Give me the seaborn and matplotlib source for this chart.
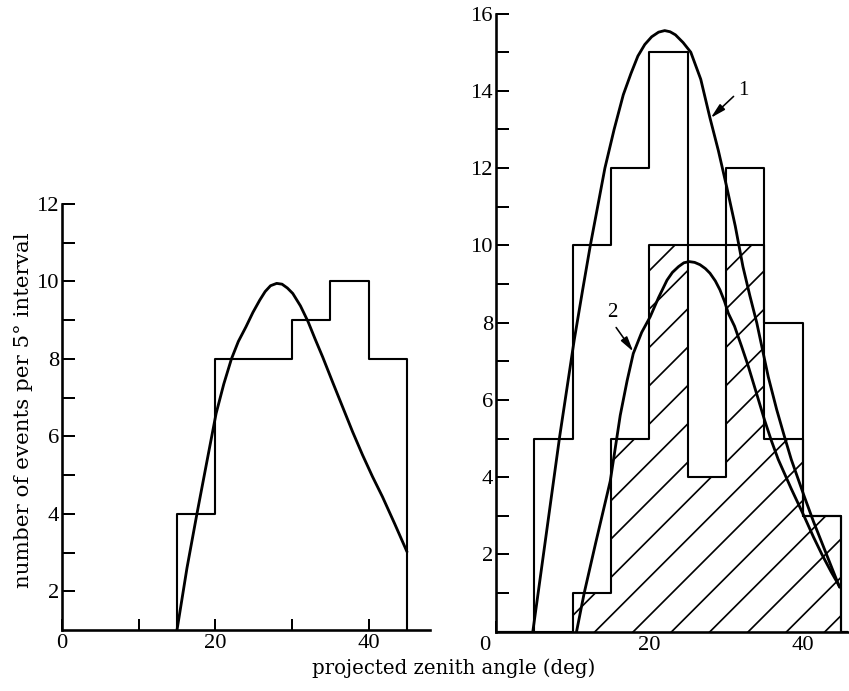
import numpy as np
import pandas as pd
import matplotlib
matplotlib.use("Agg")
import matplotlib.pyplot as plt
import seaborn as sns

# ---------------- data ----------------
bin_starts = [0, 5, 10, 15, 20, 25, 30, 35, 40, 45]
bin_width = 5
left_counts = [0, 0, 0, 4, 8, 8, 9, 10, 8, 0]
right_total = [0, 5, 10, 12, 15, 4, 12, 8, 3, 0]
right_hatched = [0, 0, 1, 5, 10, 4, 10, 5, 3, 0]
right_hatched_outline = [0, 0, 1, 5, 10, 10, 10, 5, 3, 0]

left_curve_x = [15.0, 16.3, 17.6, 18.9, 20.1, 21.1, 22.1, 23.0, 24.0, 24.9,
                25.8, 26.5, 27.2, 28.0, 28.7, 29.4, 30.1, 31.1, 32.1, 33.0,
                34.0, 35.3, 36.6, 37.9, 39.2, 40.5, 41.8, 43.4, 45.0]
left_curve_y = [1.0, 2.6, 4.0, 5.35, 6.59, 7.35, 8.0, 8.45, 8.83, 9.2,
                9.52, 9.74, 9.89, 9.95, 9.93, 9.83, 9.69, 9.37, 8.96, 8.52,
                8.05, 7.4, 6.76, 6.12, 5.52, 4.96, 4.44, 3.74, 3.02]

curve1_x = [4.8, 6.5, 8.3, 10.2, 11.3, 12.3, 13.3, 14.2, 15.4, 16.6, 17.6,
            18.5, 19.4, 20.3, 21.2, 22.0, 22.7, 23.4, 24.4, 25.4, 26.7,
            27.9, 29.0, 30.1, 31.2, 32.2, 33.1, 34.0, 35.5, 36.6, 37.6,
            38.5, 40.2, 41.4, 42.5, 43.7, 44.8]
curve1_y = [0.0, 2.45, 5.05, 7.55, 8.85, 10.0, 11.05, 12.0, 13.0, 13.9, 14.45,
            14.9, 15.2, 15.4, 15.52, 15.56, 15.53, 15.45, 15.25, 15.0, 14.3,
            13.3, 12.45, 11.5, 10.5, 9.45, 8.7, 8.0, 6.6, 5.75, 5.06,
            4.46, 3.5, 2.85, 2.3, 1.7, 1.15]

curve2_x = [10.5, 11.5, 13.0, 14.9, 16.2, 17.1, 17.9, 19.0, 20.1, 21.2, 22.3,
            23.0, 23.8, 24.5, 25.2, 25.9, 26.6, 27.3, 27.9, 28.6, 29.2,
            29.8, 30.3, 31.1, 32.0, 32.9, 34.0, 35.0, 35.9, 36.8, 38.5,
            40.2, 41.4, 42.5, 43.7, 44.8]
curve2_y = [0.0, 1.0, 2.3, 3.9, 5.6, 6.5, 7.2, 7.75, 8.15, 8.65, 9.1,
            9.3, 9.45, 9.55, 9.58, 9.56, 9.5, 9.4, 9.28, 9.08, 8.85,
            8.55, 8.24, 7.91, 7.4, 6.87, 6.15, 5.49, 4.95, 4.46, 3.7,
            2.98, 2.45, 2.0, 1.55, 1.17]

x_tick_values = [0, 10, 20, 30, 40]
x_tick_labels = ["0", "", "20", "", "40"]
xlabel_text = "projected zenith angle (deg)"
ylabel_text = "number of events per 5° interval"

# ---------------- style ----------------
DPI = 115
PX = 72.0 / DPI  # points per pixel

sns.set_style("white")
plt.rcParams["font.family"] = ["DejaVu Serif"]
plt.rcParams["text.color"] = "black"
plt.rcParams["axes.labelcolor"] = "black"
plt.rcParams["hatch.linewidth"] = 1.7 * PX
plt.rcParams["axes.linewidth"] = 2.6 * PX

TICK_FONT = dict(family=["Liberation Serif"], size=22.5 * PX, color="black")

fig = plt.figure(figsize=(849 / DPI, 691 / DPI), dpi=DPI)
axL = fig.add_axes([62 / 849, 61 / 691, 368 / 849, 426 / 691])
axR = fig.add_axes([496 / 849, 59.3 / 691, 352 / 849, 618.1 / 691])

edges = bin_starts + [bin_starts[-1] + bin_width]
centers = [b + bin_width / 2 for b in bin_starts]

HIST_LW = 2.1 * PX
CURVE_LW = 2.8 * PX

# left panel
sns.histplot(x=centers, weights=left_counts, bins=edges, element="step",
             fill=False, color="black", linewidth=HIST_LW, ax=axL)
sns.lineplot(x=left_curve_x, y=left_curve_y, sort=False, estimator=None,
             color="black", linewidth=CURVE_LW, ax=axL)

# right panel
sns.histplot(x=centers, weights=right_hatched, bins=edges, element="bars",
             fill=True, facecolor="white", edgecolor="black", linewidth=0,
             hatch="/", alpha=1, ax=axR)
sns.histplot(x=centers, weights=right_hatched_outline, bins=edges,
             element="step", fill=False, color="black", linewidth=HIST_LW,
             ax=axR)
sns.histplot(x=centers, weights=right_total, bins=edges, element="step",
             fill=False, color="black", linewidth=HIST_LW, ax=axR)
sns.lineplot(x=curve1_x, y=curve1_y, sort=False, estimator=None,
             color="black", linewidth=CURVE_LW, ax=axR)
sns.lineplot(x=curve2_x, y=curve2_y, sort=False, estimator=None,
             color="black", linewidth=CURVE_LW, ax=axR)

arrow_kw = dict(arrowstyle="-|>,head_length=0.6,head_width=0.15",
                color="black", lw=1.6 * PX, mutation_scale=13,
                shrinkA=1, shrinkB=0)
axR.annotate("1", xy=(28.0, 13.3), xytext=(32.3, 14.0), ha="center",
             va="center", fontfamily=["Liberation Serif"], fontsize=21 * PX,
             color="black",
             arrowprops=dict(relpos=(0.0, 0.45), **arrow_kw))
axR.annotate("2", xy=(17.9, 7.25), xytext=(15.2, 8.25), ha="center",
             va="center", fontfamily=["Liberation Serif"], fontsize=21 * PX,
             color="black",
             arrowprops=dict(relpos=(0.5, 0.0), **arrow_kw))

# axes cosmetics
for ax, ymin, ymax, xmax in ((axL, 1, 12, 48), (axR, 0, 16, 45.9)):
    ax.set_xlim(0, xmax)
    ax.set_ylim(ymin, ymax)
    ax.set_xlabel("")
    ax.set_ylabel("")
    for side in ("top", "right"):
        ax.spines[side].set_visible(False)
    for side in ("left", "bottom"):
        ax.spines[side].set_color("black")
        ax.spines[side].set_linewidth(2.6 * PX)
    ax.set_facecolor("none")
    ax.tick_params(axis="y", which="both", left=True, right=False,
                   direction="in", length=13 * PX, width=2.0 * PX,
                   pad=3 * PX, colors="black")
    ax.tick_params(axis="x", which="both", bottom=True, top=False,
                   direction="in", length=11.5 * PX, width=2.0 * PX,
                   pad=4 * PX, colors="black")
    ax.set_xticks(x_tick_values)

axL.set_yticks(list(range(2, 13)))
axL.set_yticklabels([str(v) if v % 2 == 0 else "" for v in range(2, 13)],
                    **TICK_FONT)
axL.set_xticklabels(x_tick_labels, **TICK_FONT)

axR.set_yticks(list(range(1, 17)))
axR.set_yticklabels([str(v) if v % 2 == 0 else "" for v in range(1, 17)],
                    **TICK_FONT)
axR.set_xticklabels([""] + x_tick_labels[1:], **TICK_FONT)
axR.annotate("0", xy=(0, 0), xytext=(-11 * PX, -4 * PX),
             textcoords="offset points", ha="center", va="top", **TICK_FONT)

fig.text(454 / 849, 1 - 668 / 691, xlabel_text, ha="center", va="center",
         family=["DejaVu Serif"], size=19.7 * PX, color="black")
fig.text(24 / 849, 1 - 410 / 691, ylabel_text, rotation=90, ha="center",
         va="center", family=["DejaVu Serif"], size=21.4 * PX, color="black")

fig.savefig("out.png", dpi=DPI, facecolor="white")
